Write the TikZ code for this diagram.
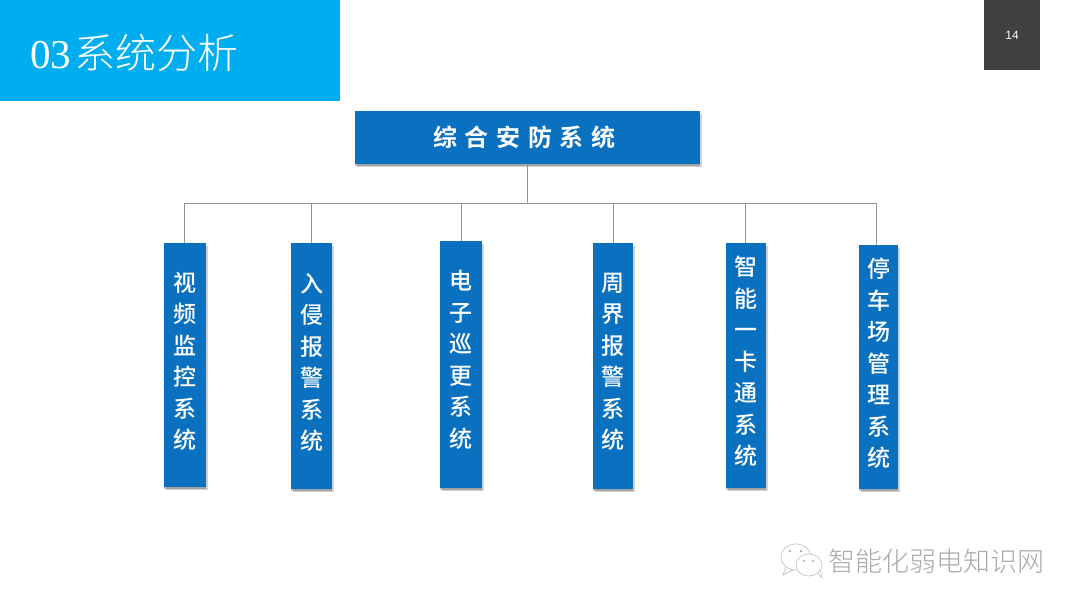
\documentclass[tikz,border=0pt]{standalone}
\usepackage{fontspec}
\setmainfont{Liberation Serif}
\setsansfont{Liberation Sans}
\newfontfamily\cjk{Noto Sans CJK SC Medium}
\newfontfamily\cjkbold{Noto Sans CJK SC Bold}
\newfontfamily\cjklight{Noto Sans CJK SC Light}
\usetikzlibrary{positioning,shadows,calc}
\definecolor{sky}{RGB}{0,174,239}
\definecolor{royal}{RGB}{10,112,192}
\definecolor{slate}{RGB}{64,64,64}
\definecolor{wire}{RGB}{140,150,150}
\definecolor{stamp}{RGB}{170,170,170}
\tikzset{
  boxshadow/.style={
    drop shadow={shadow xshift=1.5pt,shadow yshift=-2.5pt,fill=black,opacity=.18},
    drop shadow={shadow xshift=-0.5pt,shadow yshift=-1.5pt,fill=black,opacity=.22}},
  subbox/.style={fill=royal,inner sep=0pt,boxshadow},
  subtext/.style={white,align=center,font=\cjk\fontsize{23}{31.5}\selectfont},
  busline/.style={draw=wire,line width=0.9pt}
}
\begin{document}
\begin{tikzpicture}[x=1pt,y=-1pt]
        \useasboundingbox (0,0) rectangle (1080,608);
        \fill[white] (0,0) rectangle (1080,608);
        \node[fill=sky,minimum width=340pt,minimum height=101pt,inner sep=0pt] (header) at (170,50.5) {};
        \node[anchor=west,white,inner sep=0pt,font=\fontsize{41}{41}\selectfont] (title) at (30,53) {03\kern3pt{\cjklight\fontsize{41}{41}\selectfont 系统分析}};
        \node[fill=slate,minimum width=56pt,minimum height=70pt,inner sep=0pt] (page) at (1012,35) {};
        \node[white,font=\sffamily\fontsize{12}{12}\selectfont] (pagenum) at (page.center) {14};
        \node[fill=royal,minimum width=345pt,minimum height=53pt,inner sep=0pt,boxshadow] (root) at (527.5,137.5) {};
        \node[white,font=\cjkbold\fontsize{24}{24}\selectfont] (roottext) at (524.5,137.5) {\addfontfeature{LetterSpace=32}综合安防系统};
        \coordinate (busl) at (184,203);
        \coordinate (busr) at (876,203);
        \draw[busline] (busl) -- (busr);
        \draw[busline] (root.south) -- (root.south |- busl);
        \foreach \n/\cx/\cy/\w/\h/\dx/\ty/\t in {
          video/185/365/42/244/184/361.5/视\\频\\监\\控\\系\\统,
          alarm/311.5/366/41/246/311/362.5/入\\侵\\报\\警\\系\\统,
          patrol/461/364.5/42/247/461/360/电\\子\\巡\\更\\系\\统,
          fence/613/366/40/246/613/362/周\\界\\报\\警\\系\\统,
          card/746/365.5/40/245/745/361.5/智\\能\\一\\卡\\通\\系\\统,
          parking/878.5/367/39/244/876/363.5/停\\车\\场\\管\\理\\系\\统}{
          \node[subbox,minimum width=\w pt,minimum height=\h pt] (\n) at (\cx,\cy) {};
          \node[subtext] (\n text) at (\cx,\ty) {\t};
          \draw[busline] (\dx,203) -- (\n.north -| \dx,203);
        }
        % watermark
        \node[anchor=west,stamp,inner sep=0pt,font=\cjklight\fontsize{27}{27}\selectfont] (marktext) at (828,561) {智能化弱电知识网};
        \draw[stamp!70,fill=white,line width=0.7pt] (786,567) -- (783,575) -- (793,570) -- cycle;
        \draw[stamp!70,fill=white,line width=0.7pt] (796,557) ellipse (15 and 13);
        \draw[stamp!70,fill=white,line width=0.7pt] (816,572) -- (822,578) -- (820,568) -- cycle;
        \draw[stamp!70,fill=white,line width=0.7pt] (809,565) ellipse (13 and 11);
        \fill[stamp] (790,551) circle (1.3) (801,551) circle (1.3) (804,561) circle (1.1) (813,561) circle (1.1);
\end{tikzpicture}
\end{document}
